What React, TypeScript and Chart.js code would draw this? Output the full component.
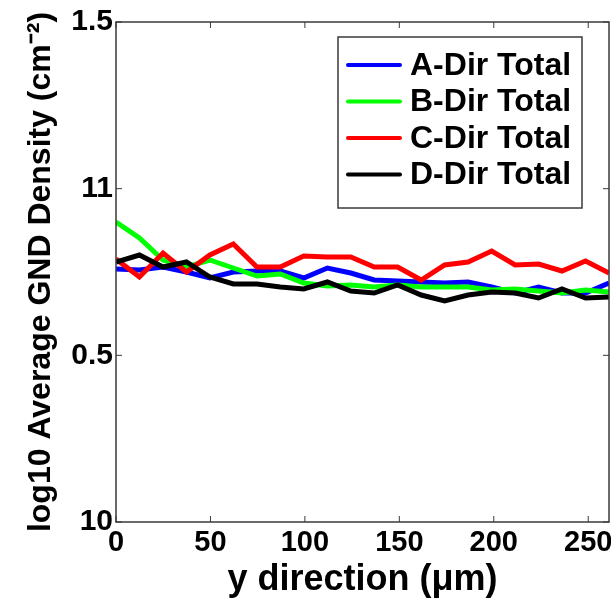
import React, { useEffect, useRef } from 'react';
import { Chart, registerables } from 'chart.js';

Chart.register(...registerables);

// ---- data ----
const xPositions = [0, 12.4, 24.9, 37.3, 49.7, 62.1, 74.6, 87.0, 99.4, 111.9, 124.3, 136.7, 149.1, 161.6, 174.0, 186.4, 198.9, 211.3, 223.7, 236.1, 248.6, 261.0];
const aDirTotal = [10.759, 10.756, 10.765, 10.75, 10.732, 10.75, 10.753, 10.753, 10.732, 10.762, 10.747, 10.726, 10.723, 10.72, 10.717, 10.72, 10.705, 10.687, 10.705, 10.687, 10.687, 10.717];
const bDirTotal = [10.9, 10.852, 10.786, 10.765, 10.786, 10.762, 10.738, 10.744, 10.717, 10.708, 10.711, 10.705, 10.711, 10.705, 10.705, 10.705, 10.696, 10.699, 10.693, 10.687, 10.696, 10.69];
const cDirTotal = [10.789, 10.735, 10.807, 10.75, 10.801, 10.834, 10.765, 10.765, 10.798, 10.795, 10.795, 10.765, 10.765, 10.726, 10.771, 10.78, 10.813, 10.771, 10.774, 10.753, 10.783, 10.747];
const dDirTotal = [10.78, 10.801, 10.765, 10.78, 10.735, 10.714, 10.714, 10.705, 10.699, 10.72, 10.693, 10.687, 10.711, 10.681, 10.663, 10.681, 10.69, 10.687, 10.672, 10.699, 10.672, 10.675];

const seriesLabels = ['A-Dir Total', 'B-Dir Total', 'C-Dir Total', 'D-Dir Total'];
const seriesColors = ['#0000ff', '#00ff00', '#ff0000', '#000000'];

const yTickValues = [10, 10.5, 11, 11.5];
const yTickLabels = ['10', '0.5', '11', '1.5'];
const xTickValues = [0, 50, 100, 150, 200, 250];

const xTitle = 'y direction (μm)';
const yTitle = 'log10 Average GND Density (cm⁻²)';

const FONT = "'Liberation Sans', Arial, Helvetica, sans-serif";

const framePlugin = {
  id: 'matlabFrame',
  afterDatasetsDraw(chart: any) {
    const { ctx, chartArea: a, scales } = chart;
    ctx.save();
    // frame
    ctx.strokeStyle = '#3a3a3a';
    ctx.lineWidth = 1.5;
    ctx.strokeRect(a.left, a.top, a.right - a.left, a.bottom - a.top);
    // inward ticks
    ctx.lineWidth = 1;
    const tl = 6;
    xTickValues.forEach((v) => {
      const px = scales.x.getPixelForValue(v);
      ctx.beginPath();
      ctx.moveTo(px, a.bottom);
      ctx.lineTo(px, a.bottom - tl);
      ctx.moveTo(px, a.top);
      ctx.lineTo(px, a.top + tl);
      ctx.stroke();
    });
    yTickValues.forEach((v) => {
      const py = scales.y.getPixelForValue(v);
      ctx.beginPath();
      ctx.moveTo(a.left, py);
      ctx.lineTo(a.left + tl, py);
      ctx.moveTo(a.right, py);
      ctx.lineTo(a.right - tl, py);
      ctx.stroke();
    });

    // legend box
    const bx = a.right - 271;
    const by = a.top + 15;
    const bw = 244;
    const bh = 171;
    ctx.fillStyle = '#ffffff';
    ctx.fillRect(bx, by, bw, bh);
    ctx.strokeStyle = '#3a3a3a';
    ctx.lineWidth = 1.5;
    ctx.strokeRect(bx, by, bw, bh);
    ctx.font = `bold 32px ${FONT}`;
    ctx.textBaseline = 'middle';
    ctx.textAlign = 'left';
    chart.data.datasets.forEach((ds: any, i: number) => {
      const ry = by + 28 + i * 36.5;
      ctx.strokeStyle = ds.borderColor;
      ctx.lineWidth = 4;
      ctx.lineCap = 'round';
      ctx.beginPath();
      ctx.moveTo(bx + 10, ry);
      ctx.lineTo(bx + 62, ry);
      ctx.stroke();
      ctx.fillStyle = '#000';
      ctx.fillText(ds.label, bx + 72, ry + 1);
    });
    ctx.restore();
  },
};

export default function App() {
  const ref = useRef<HTMLCanvasElement | null>(null);

  useEffect(() => {
    if (!ref.current) return;
    const seriesData = [aDirTotal, bDirTotal, cDirTotal, dDirTotal];
    const chart = new Chart(ref.current, {
      type: 'line',
      data: {
        datasets: seriesData.map((vals, i) => ({
          label: seriesLabels[i],
          data: vals.map((v, j) => ({ x: xPositions[j], y: v })),
          borderColor: seriesColors[i],
          backgroundColor: seriesColors[i],
          borderWidth: 5,
          pointRadius: 0,
          tension: 0,
          fill: false,
          order: 3 - i,
        })),
      },
      options: {
        animation: false,
        responsive: false,
        devicePixelRatio: 1,
        layout: { padding: { top: 22, right: 2, bottom: 0, left: 24 } },
        plugins: {
          legend: { display: false },
          tooltip: { enabled: false },
        },
        scales: {
          x: {
            type: 'linear',
            min: 0,
            max: 261,
            grid: { display: false, drawTicks: false },
            border: { display: false },
            afterBuildTicks: (s: any) => {
              s.ticks = xTickValues.map((v) => ({ value: v }));
            },
            afterFit: (s: any) => {
              s.height = 77;
              s.paddingLeft = 0;
              s.paddingRight = 0;
            },
            ticks: {
              color: '#000',
              padding: 4,
              maxRotation: 0,
              autoSkip: false,
              font: { family: FONT, size: 29, weight: 'bold' },
              callback: (v: any) => String(v),
            },
            title: {
              display: true,
              text: xTitle,
              color: '#000',
              padding: 0,
              font: { family: FONT, size: 36, weight: 'bold', lineHeight: 1.05 },
            },
          },
          y: {
            type: 'linear',
            min: 10,
            max: 11.5,
            grid: { display: false, drawTicks: false },
            border: { display: false },
            afterBuildTicks: (s: any) => {
              s.ticks = yTickValues.map((v) => ({ value: v }));
            },
            afterFit: (s: any) => {
              s.width = 92;
              s.paddingTop = 0;
              s.paddingBottom = 0;
            },
            ticks: {
              color: '#000',
              padding: 3,
              autoSkip: false,
              font: { family: FONT, size: 30, weight: 'bold' },
              callback: (v: any) => {
                const idx = yTickValues.indexOf(Number(v));
                return idx >= 0 ? yTickLabels[idx] : '';
              },
            },
            title: {
              display: true,
              text: yTitle,
              color: '#000',
              padding: 0,
              font: { family: FONT, size: 32, weight: 'bold', lineHeight: 1.1 },
            },
          },
        },
      },
      plugins: [framePlugin],
    } as any);
    return () => chart.destroy();
  }, []);

  return (
    <div style={{ position: 'absolute', left: 0, top: 0, width: 611, height: 599, background: '#fff' }}>
      <canvas ref={ref} width={611} height={599} style={{ display: 'block' }} />
    </div>
  );
}
